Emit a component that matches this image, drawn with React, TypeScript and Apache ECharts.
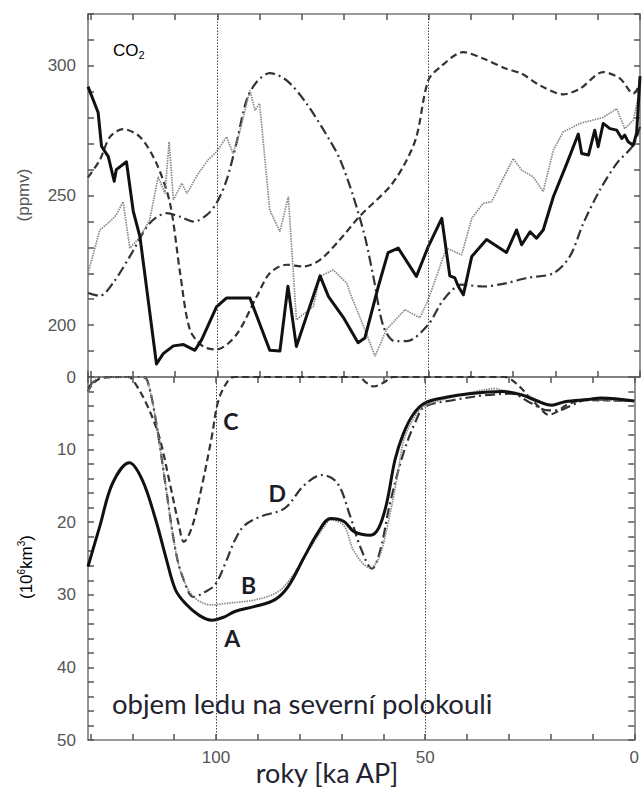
import React, { useEffect, useRef } from "react";
import * as echarts from "echarts";

// ---- data: [age ka BP, value] ----
const co2A: number[][] = [
  [130.6, 292], [128.2, 282], [127.4, 269], [125.8, 265], [124.4, 255.5], [123.9, 260], [121.5, 263],
  [119.9, 244], [118.3, 234], [114.4, 185], [112.8, 189], [110.4, 192], [108, 192.5], [105.3, 190.3],
  [103.7, 194.4], [100.2, 207], [97.8, 210.5], [92.3, 210.5], [87.6, 190.3], [85.2, 190], [83.3, 215],
  [81.3, 191.8], [75.7, 219], [73.7, 211], [70.2, 203], [66.7, 193.2], [65.1, 195], [61.9, 215],
  [59.6, 228], [57.2, 229.7], [52.9, 218.8], [50.1, 230.3], [46.9, 241.2], [45, 219], [43.8, 218.2],
  [43, 215], [41.8, 211.7], [39.8, 226.5], [36.3, 233], [31.6, 228], [29.2, 236.7], [28, 231],
  [26, 236], [24.5, 233.5], [22.9, 236.7], [20.5, 249.5], [17.3, 262.4], [14.6, 273.7], [13.8, 266.2],
  [12.2, 265.6], [10.7, 275.2], [9.9, 268.8], [8.7, 277.8], [7.1, 275.8], [5.5, 275.2], [4.3, 272],
  [3.6, 273.3], [2.8, 270.7], [1.6, 269.4], [0.8, 274], [0, 296],
];
const co2B: number[][] = [
  [130.6, 220], [127.8, 236.7], [125.4, 240], [123.9, 242.5], [122.3, 247.6], [120.7, 229.7],
  [118.3, 234], [116, 240.6], [114, 257.2], [112.4, 250.8], [111.4, 270.7], [110.4, 248.3],
  [108.4, 254.7], [107.2, 250.8], [104.5, 258.5], [102.2, 263.7], [100.2, 266.8], [97.8, 272.6],
  [96.3, 266.2], [94.7, 274.5], [92.3, 290.6], [91.1, 282.9], [90, 285.5], [87.6, 244.4],
  [85.2, 236.1], [83.2, 249.5], [81.3, 202.1], [77.3, 207.2], [75.7, 218.8], [72.6, 221.3],
  [69.4, 216.2], [68.6, 212.4], [65.1, 198.3], [62.7, 188], [60, 198.3], [55.6, 206], [52.1, 202.8],
  [50.1, 209.8], [45.8, 229.7], [42.2, 227.1], [39.8, 241.2], [37.1, 247], [35.1, 247.6], [30, 264.3],
  [28, 259.8], [25.3, 257.2], [22.9, 251.5], [20.5, 267.5], [18.2, 274.5], [14.2, 277.8], [8.7, 280.1],
  [5.5, 283.5], [3.6, 275.8], [1.6, 279], [0.4, 288],
];
const co2C: number[][] = [
  [130.6, 257], [127.8, 263.7], [125.4, 272.6], [122.3, 275.6], [118.3, 272.6], [114.4, 262.4],
  [111.2, 247], [108.8, 220], [106.5, 198.3], [103.4, 191.8], [100.2, 190.6], [95.5, 196.3],
  [90.7, 211], [87.6, 220], [83.6, 223.3], [79.7, 222.6], [75.7, 225.2], [71, 233], [66.3, 242],
  [59.2, 253.4], [55.6, 262.4], [52.9, 272.6], [50.1, 294.4], [47.3, 299.5], [41.8, 305.3],
  [37.1, 302.8], [31.6, 298.9], [28, 297], [23.7, 292.5], [18.2, 289], [14.2, 291.2], [8.7, 297.6],
  [4.7, 295.1], [1.6, 289.3], [0, 293],
];
const co2D: number[][] = [
  [130.6, 212.4], [127.8, 211.3], [124.7, 216.2], [120.7, 226.5], [116, 239.3], [112, 243.2],
  [108.8, 241.8], [105.6, 239.9], [102.5, 242.5], [100.2, 247], [97.8, 256], [95.5, 270.1],
  [93.1, 286.7], [90.7, 293.8], [87.6, 297.2], [83.6, 294.4], [78.9, 285.5], [73.4, 271.3],
  [71, 264], [67.9, 250], [65.1, 234.2], [63.1, 218.8], [60.7, 199.5], [58, 193.8], [55.2, 193.8],
  [50.1, 200.2], [46.5, 209.8], [42.2, 215.6], [37.1, 214.9], [31.6, 216.2], [26.8, 218.2],
  [20.5, 220], [16.6, 226.5], [13.4, 239.3], [9.5, 252.1], [5.5, 262.4], [1.6, 269.4], [0, 276.5],
];

const iceA: number[][] = [
  [130.6, 26.1], [127.8, 20.6], [124.7, 14.6], [120.7, 11.8], [117.6, 14.2], [114.4, 19.7], [112, 24.8],
  [109.7, 29.3], [107.3, 31.2], [104.1, 32.8], [101, 33.5], [97.8, 33], [95.5, 32.3], [90.7, 31.6],
  [86, 30.7], [82.8, 28.9], [78.9, 24.8], [75.7, 21.5], [72.6, 19.5], [69.4, 19.9], [67, 21.3],
  [63.1, 21.8], [61.1, 20.8], [59.2, 17.4], [57.2, 11.4], [55.2, 7.8], [52.9, 5.2], [50.1, 3.6],
  [45, 2.8], [39.5, 2.3], [31.6, 2], [26.8, 2.5], [23.7, 3.2], [19.7, 3.9], [16.6, 3.4], [11, 3.1],
  [7.9, 2.9], [0, 3.3],
];
const iceB: number[][] = [
  [130.6, 2.2], [129.5, 0.8], [127.5, 0], [117.5, 0], [116.4, 0.5], [114.4, 5.9], [112, 15.1],
  [109.7, 23.8], [108, 27.5], [105.3, 30.3], [101, 31.4], [97.8, 31.2], [90.7, 30.7], [85.2, 29.6],
  [82, 27.6], [77.3, 23.4], [74, 20.5], [72.6, 19.7], [69.4, 20.5], [67, 24], [63.1, 26.3], [61.1, 25],
  [59.2, 21], [56.8, 14.2], [55, 8.5], [52.5, 5.5], [50.1, 4], [45, 3], [38, 2], [33, 1.6], [31.6, 1.8],
  [27, 2.3], [23.7, 3], [20.5, 3.8], [17, 3.5], [11, 3.1], [0, 3.3],
];
const iceC: number[][] = [
  [130.6, 2], [129.4, 0.9], [127, 0.1], [121, 0], [119.9, 0.4], [116.7, 3.6], [113.6, 8.2],
  [111.2, 14.2], [108.8, 20.6], [107.7, 22.7], [105.7, 20.6], [103.4, 15.1], [101, 8.2], [99.4, 3.2],
  [97, 0.4], [95.5, 0], [66, 0], [64, 0.8], [62.4, 1.3], [60, 0.8], [57.5, 0], [31, 0], [28, 1],
  [25.5, 2.5], [22.5, 4.3], [20.5, 5.2], [18.5, 4.8], [16, 3.8], [12, 3.2], [0, 3.3],
];
const iceD: number[][] = [
  [130.6, 1.5], [129, 0.5], [127.5, 0], [117.5, 0], [116.4, 0.5], [114.4, 5.9], [112, 15.1],
  [109.7, 23.8], [108, 27.5], [105.3, 30.3], [102.6, 29.6], [100.2, 28.6], [97.8, 25.7], [95.5, 22.5],
  [93.1, 20.4], [89.2, 19.2], [83.6, 18.1], [78.9, 14.9], [74.6, 13.5], [71, 14.6], [67.9, 19.2],
  [65.5, 23.4], [62.7, 26.4], [60.7, 23.8], [58.4, 17.4], [55.2, 10.5], [52.1, 5.9], [50.1, 4.1],
  [43.4, 3.2], [35.5, 2.5], [29.2, 2.3], [25.3, 3.4], [20.5, 4.6], [18.2, 4.6], [15, 3.9], [11, 3.1],
  [0, 3.3],
];

const xLabelTicks = [100, 50, 0];
const co2LabelTicks = [200, 250, 300];
const iceLabelTicks = [0, 10, 20, 30, 40, 50];
const refLines = [100, 50];
const curveLabels = [
  { text: "A", t: 96.5, v: 35.9 },
  { text: "B", t: 92.6, v: 28.6 },
  { text: "C", t: 96.8, v: 6 },
  { text: "D", t: 85.8, v: 16 },
];

const X_MAX = 130.6;
const AXIS_COLOR = "#7a7a7a";
const TICK_COLOR = "#555555";
const LABEL_COLOR = "#555";
const TICK_FONT = "'Liberation Sans', Arial, sans-serif";
const TEXT_FONT = "Lato, 'Open Sans', sans-serif";

const styleA = { color: "#111", width: 3, type: "solid" as any };
const styleB = { color: "#888", width: 1.7, type: [1.5, 1] as any };
const styleC = { color: "#333", width: 2.2, type: [7, 4] as any };
const styleD = { color: "#333", width: 2.2, type: [10, 4, 2, 4] as any };

export default function App() {
  const ref = useRef<HTMLDivElement>(null);
  useEffect(() => {
    document.body.style.margin = "0";
    const chart = echarts.init(ref.current!, null, { renderer: "svg" });

    const tick = { show: true, inside: true, length: 6, lineStyle: { color: TICK_COLOR, width: 1.5 } };
    const hiddenSplit = { show: true, lineStyle: { color: "rgba(255,255,255,0)", width: 0 } };

    const xBase = (grid: number, pos: string, labels: boolean) => ({
      type: "value",
      gridIndex: grid,
      position: pos,
      min: 0,
      max: X_MAX,
      interval: 10,
      inverse: true,
      axisLine: { show: true, onZero: false, lineStyle: { color: AXIS_COLOR, width: 1.6 } },
      axisTick: tick,
      splitLine: hiddenSplit,
      axisLabel: {
        show: labels,
        margin: 9,
        color: LABEL_COLOR,
        fontSize: 17,
        fontFamily: TICK_FONT,
        showMaxLabel: false,
        formatter: (v: number) => (xLabelTicks.includes(v) ? String(v) : ""),
      },
    });
    const yBase = (grid: number, pos: string, labels: boolean, top: boolean) => ({
      type: "value",
      gridIndex: grid,
      position: pos,
      min: top ? 180 : 0,
      max: top ? 320 : 50,
      interval: top ? 10 : 2,
      inverse: !top,
      axisLine: { show: true, onZero: false, lineStyle: { color: AXIS_COLOR, width: 1.6 } },
      axisTick: tick,
      splitLine: hiddenSplit,
      axisLabel: {
        show: labels,
        margin: 12,
        color: LABEL_COLOR,
        fontSize: 17,
        fontFamily: TICK_FONT,
        formatter: (v: number) =>
          (top ? co2LabelTicks : iceLabelTicks).includes(v) ? String(v) : "",
      },
    });

    const line = (data: number[][], ls: any, xi: number, yi: number, smooth: number | boolean, extra: any = {}) => ({
      type: "line",
      xAxisIndex: xi,
      yAxisIndex: yi,
      data,
      showSymbol: false,
      symbol: "none",
      smooth,
      lineStyle: ls,
      z: 3,
      ...extra,
    });

    const mark = () => ({
      markLine: {
        silent: true,
        symbol: "none",
        label: { show: false },
        lineStyle: { color: "#444", width: 1, type: [1.5, 1.5] },
        data: refLines.map((x) => ({ xAxis: x })),
      },
    });

    const gx = (t: number) => 640 - (t * 552) / X_MAX;
    const gyIce = (v: number) => 377 + (v * 363) / 50;

    chart.setOption({
      animation: false,
      backgroundColor: "#fff",
      grid: [
        { left: 88, top: 14, width: 552, height: 363 },
        { left: 88, top: 377, width: 552, height: 363 },
      ],
      xAxis: [xBase(0, "bottom", false), xBase(0, "top", false), xBase(1, "top", false), xBase(1, "bottom", true)],
      yAxis: [yBase(0, "left", true, true), yBase(0, "right", false, true), yBase(1, "left", true, false), yBase(1, "right", false, false)],
      series: [
        line(co2D, styleD, 0, 0, 0.3, mark()),
        line(co2C, styleC, 0, 0, 0.3),
        line(co2B, styleB, 0, 0, false),
        line(co2A, styleA, 0, 0, false, { lineStyle: { ...styleA, join: "round" } }),
        line(iceD, styleD, 3, 2, 0.35, mark()),
        line(iceC, styleC, 3, 2, 0.35),
        line(iceB, styleB, 3, 2, 0.35),
        line(iceA, styleA, 3, 2, 0.35),
      ],
      graphic: [
        {
          type: "text",
          x: 113,
          y: 50,
          style: {
            text: "{a|CO}{b|2}",
            verticalAlign: "middle",
            rich: {
              a: { fontSize: 17, fontFamily: TICK_FONT, color: "#444" },
              b: { fontSize: 11, fontFamily: TICK_FONT, color: "#444", padding: [10, 0, 0, 0] },
            },
          },
        },
        {
          type: "text",
          x: 23,
          y: 195,
          rotation: Math.PI / 2,
          style: {
            text: "(ppmv)",
            align: "center",
            verticalAlign: "middle",
            fontSize: 17,
            fontFamily: TICK_FONT,
            fill: LABEL_COLOR,
          },
        },
        {
          type: "text",
          x: 26,
          y: 567,
          rotation: Math.PI / 2,
          style: {
            text: "{a|(10}{s|6}{a|km}{s|3}{a|)}",
            align: "center",
            verticalAlign: "middle",
            rich: {
              a: { fontSize: 17, fontFamily: TICK_FONT, color: LABEL_COLOR },
              s: { fontSize: 10, fontFamily: TICK_FONT, color: LABEL_COLOR, padding: [0, 0, 10, 0] },
            },
          },
        },
        {
          type: "text",
          x: 112,
          y: 703,
          style: {
            text: "objem ledu na severní polokouli",
            verticalAlign: "middle",
            fontSize: 27.5,
            fontFamily: TEXT_FONT,
            fill: "#222230",
          },
        },
        {
          type: "text",
          x: 327,
          y: 772,
          style: {
            text: "roky [ka AP]",
            align: "center",
            verticalAlign: "middle",
            fontSize: 27,
            fontFamily: TEXT_FONT,
            fill: "#222230",
          },
        },
        ...curveLabels.map((c) => ({
          type: "text",
          x: gx(c.t),
          y: gyIce(c.v),
          style: {
            text: c.text,
            align: "center",
            verticalAlign: "middle",
            fontSize: 23,
            fontWeight: "bold",
            fontFamily: TEXT_FONT,
            fill: "#1c1c28",
          },
        })),
      ],
    });
    return () => chart.dispose();
  }, []);
  return <div ref={ref} style={{ position: "absolute", left: 0, top: 0, width: 642, height: 787 }} />;
}
